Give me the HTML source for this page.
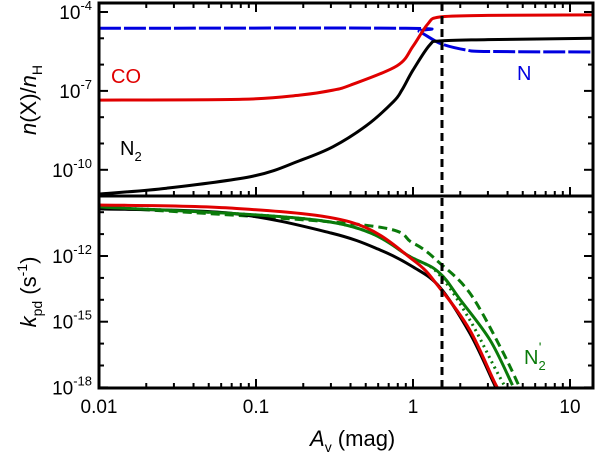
<!DOCTYPE html>
<html><head><meta charset="utf-8"><style>
html,body{margin:0;padding:0;background:#fff;width:600px;height:457px;overflow:hidden}
svg text{font-family:"Liberation Sans",sans-serif}
</style></head><body>
<svg id="c" width="600" height="457" xmlns="http://www.w3.org/2000/svg"></svg>
<script>
// x values (A_v, mag) and log10 abundances / rates
const upperRedA=[0.01,0.082,0.19,0.31,0.4,0.79,1.0,1.24,1.48,3,14];
const upperRedV=[-7.35,-7.32,-7.16,-6.97,-6.78,-6.05,-5.3,-4.46,-4.19,-4.13,-4.11];
const upperBlueA=[0.01,0.9,1.1,1.5,2.2,3,14];
const upperBlueV=[-4.62,-4.62,-4.75,-5.2,-5.45,-5.5,-5.52];
const upperBlackA=[0.01,0.027,0.096,0.19,0.31,0.51,0.75,0.85,1.0,1.28,1.5,3,14];
const upperBlackV=[-10.92,-10.70,-10.24,-9.65,-9.12,-8.30,-7.41,-6.97,-6.21,-5.25,-5.1,-5.05,-5.0];
const lowBlackA=[0.01,0.068,0.3,0.62,1.0,1.48,2.3,3.2,3.4];
const lowBlackV=[-9.85,-10.04,-10.95,-11.73,-12.5,-13.42,-15.52,-17.66,-18.1];
const lowRedA=[0.01,0.068,0.4,1.0,1.48,2.3,3.3,3.6];
const lowRedV=[-9.67,-9.81,-10.45,-12.18,-13.46,-15.38,-17.75,-18.2];
const lowGreenA=[0.01,0.3,1.0,1.48,2.0,3.1,4.3];
const lowGreenV=[-9.76,-10.45,-12.1,-12.78,-14.0,-15.84,-17.9];
const lowGreenDashA=[0.01,0.48,1.0,1.48,2.3,3.6,4.8];
const lowGreenDashV=[-9.76,-10.58,-11.41,-12.32,-13.69,-16.16,-18.03];
const lowGreenDotA=[0.01,0.3,1.0,1.48,2.3,3.3,3.9];
const lowGreenDotV=[-9.76,-10.45,-12.1,-12.87,-14.92,-17.07,-18.03];
const xTicks=[0.01,0.1,1,10];
const xTickLabels=["0.01","0.1","1","10"];
const upTicks=[-4,-7,-10];
const upTickLabels=["-4","-7","-10"];
const lowTicks=[-12,-15,-18];
const lowTickLabels=["-12","-15","-18"];
const vline=1.53;

const L=99,R=593,T=3,M=196,B=388;
const X=a=>L+(Math.log10(a)+2)*157;
const YU=v=>12-(v+4)*26.3;
const YL=v=>256-(v+12)*21.9;
const svg=document.getElementById('c');
const NS='http://www.w3.org/2000/svg';
function el(t,at,p){const e=document.createElementNS(NS,t);for(const k in at)e.setAttribute(k,at[k]);(p||svg).appendChild(e);return e;}
const defs=el('defs',{});
const cu=el('clipPath',{id:'cu'},defs);el('rect',{x:L,y:T,width:R-L,height:M-T},cu);
const cl=el('clipPath',{id:'cl'},defs);el('rect',{x:L,y:M,width:R-L,height:B-M},cl);
function smooth(P){
  let d='M'+P[0][0].toFixed(1)+','+P[0][1].toFixed(1);
  for(let i=0;i<P.length-1;i++){
    const p0=P[i-1]||P[i],p1=P[i],p2=P[i+1],p3=P[i+2]||P[i+1];
    const c1=[p1[0]+(p2[0]-p0[0])/6,p1[1]+(p2[1]-p0[1])/6];
    const c2=[p2[0]-(p3[0]-p1[0])/6,p2[1]-(p3[1]-p1[1])/6];
    d+='C'+c1.map(v=>v.toFixed(1)).join(',')+' '+c2.map(v=>v.toFixed(1)).join(',')+' '+p2.map(v=>v.toFixed(1)).join(',');
  }
  return d;
}
function line(A,V,Y,col,dash,clip,name){
  const P=A.map((a,i)=>[X(a),Y(V[i])]);
  const p=el('path',{d:smooth(P),fill:'none',stroke:col,'stroke-width':3,'clip-path':'url(#'+clip+')','stroke-linejoin':'round'});
  if(dash)p.setAttribute('stroke-dasharray',dash);
  
  
}
line(upperBlueA,upperBlueV,YU,'#0000e0','22,3','cu','n-abundance-line');
line(upperBlackA,upperBlackV,YU,'#000','','cu','n2-abundance-line');
line(upperRedA,upperRedV,YU,'#e00000','','cu','co-abundance-line');
line(lowGreenDashA,lowGreenDashV,YL,'#0a7a0a','9,5','cl','n2prime-dashed-line');
line(lowGreenDotA,lowGreenDotV,YL,'#0a7a0a','2,4','cl','n2prime-dotted-line');
line(lowBlackA,lowBlackV,YL,'#000','','cl','n2-rate-line');
line(lowGreenA,lowGreenV,YL,'#0a7a0a','','cl','n2prime-rate-line');
line(lowRedA,lowRedV,YL,'#e00000','','cl','co-rate-line');
let vl=el('line',{x1:X(vline),x2:X(vline),y1:T,y2:B,stroke:'#000','stroke-width':3,'stroke-dasharray':'8,5'});

let f=el('rect',{x:L,y:T,width:R-L,height:B-T,fill:'none',stroke:'#000','stroke-width':3});

el('line',{x1:L,x2:R,y1:M,y2:M,stroke:'#000','stroke-width':3});
for(let d=-2;d<=1;d++)for(let m=1;m<=9;m++){const a=m*Math.pow(10,d);if(a>14.5)continue;const x=X(a);const len=m==1?9:5;
 [M,B].forEach(y=>el('line',{x1:x,x2:x,y1:y,y2:y-len,stroke:'#000','stroke-width':2}));
 el('line',{x1:x,x2:x,y1:T,y2:T+len,stroke:'#000','stroke-width':2});}
xTicks.forEach((a,i)=>{const t=el('text',{x:X(a),y:B+25,'font-size':19,'text-anchor':'middle'});t.textContent=xTickLabels[i];
 });
for(let v=-11;v<=-4;v++){const y=YU(v);const len=(v%3==-1)?9:5;[[L,L+len],[R,R-len]].forEach(p=>el('line',{x1:p[0],x2:p[1],y1:y,y2:y,stroke:'#000','stroke-width':2}));}
for(let v=-18;v<=-10;v++){const y=YL(v);const len=(v%3==0)?9:5;[[L,L+len],[R,R-len]].forEach(p=>el('line',{x1:p[0],x2:p[1],y1:y,y2:y,stroke:'#000','stroke-width':2}));}
function ylab(y,e){const t=el('text',{x:L-7,y:y+7,'font-size':19,'text-anchor':'end'});
 
 const a=el('tspan',{},t);a.textContent='10';const b=el('tspan',{dy:-9,'font-size':13},t);b.textContent=e;}
upTicks.forEach((v,i)=>ylab(YU(v),upTickLabels[i]));
lowTicks.forEach((v,i)=>ylab(YL(v),lowTickLabels[i]));
</script>
<svg width="600" height="457" style="position:absolute;left:0;top:0" xmlns="http://www.w3.org/2000/svg">
<text x="310" y="446" font-size="22"><tspan font-style="italic">A</tspan><tspan font-size="14" dy="6">v</tspan><tspan dy="-6"> (mag)</tspan></text>
<text transform="translate(36,100) rotate(-90)" text-anchor="middle" font-size="22"><tspan font-style="italic">n</tspan>(X)/<tspan font-style="italic">n</tspan><tspan font-size="14" dy="6">H</tspan></text>
<text transform="translate(36,292) rotate(-90)" text-anchor="middle" font-size="22"><tspan font-style="italic">k</tspan><tspan font-size="14" dy="6">pd</tspan><tspan dy="-6"> (s</tspan><tspan font-size="14" dy="-9">-1</tspan><tspan dy="9">)</tspan></text>
<text x="111" y="83" font-size="20" fill="#e00000">CO</text>
<text x="517" y="80" font-size="20" fill="#0000e0">N</text>
<text x="120" y="155" font-size="20">N<tspan font-size="13" dy="6">2</tspan></text>
<text x="524" y="364" font-size="20" fill="#0a7a0a">N<tspan font-size="13" dy="6">2</tspan><tspan font-size="14" dx="-7" dy="-18">'</tspan></text>
</svg>
</body></html>
